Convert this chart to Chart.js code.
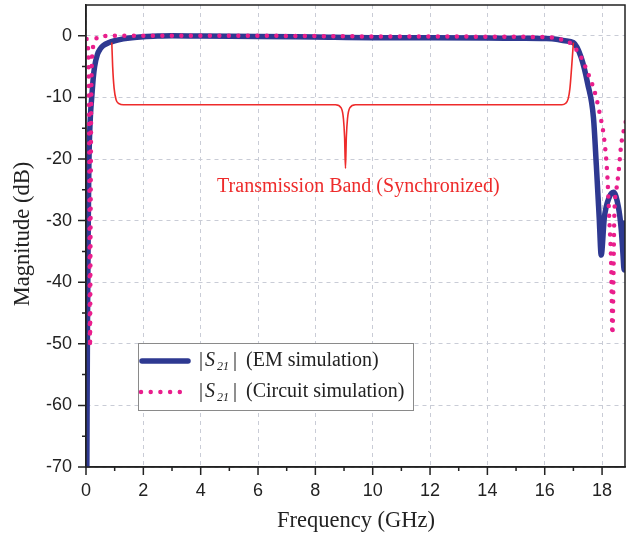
<!DOCTYPE html>
<html>
<head>
<meta charset="utf-8">
<script src="https://cdn.jsdelivr.net/npm/chart.js@4.4.0/dist/chart.umd.min.js"></script>
<style>
html,body{margin:0;padding:0;background:#fff;}
</style>
</head>
<body>
<canvas id="myChart" width="634" height="537"></canvas>
<script>
// datos
const emFreq=[0.03,0.05,0.08,0.1,0.13,0.16,0.2,0.25,0.3,0.4,0.5,0.6,0.8,1.0,1.3,1.6,2.0,2.5,3,4,6,8,10,12,14,15,16,16.4,16.7,17.0,17.27,17.5,17.7,17.8,17.9,17.97,18.08,18.25,18.4,18.57,18.67,18.73,18.77,18.8,18.84];
const emMag=[-70,-48,-30,-21,-15.5,-12.5,-10,-7,-5,-3,-2.1,-1.6,-1.1,-0.8,-0.5,-0.3,-0.15,-0.05,0,-0.05,-0.1,-0.2,-0.3,-0.3,-0.35,-0.4,-0.45,-0.55,-0.8,-1.1,-3.5,-7.8,-13.3,-21,-29.5,-35.6,-29.5,-26.2,-25.4,-27.8,-31.5,-35.5,-38,-30,-24];

const cirFreq=[0.02,0.06,0.1,0.12,0.14,0.16,0.18,0.2,0.23,0.27,0.35,0.5,1,2,4,6,8,10,12,14,16,16.5,16.92,17.27,17.5,17.73,17.9,18.08,18.18,18.25,18.32,18.36,18.43,18.5,18.57,18.67,18.75,18.85];
const cirMag=[-0.5,-1.5,-8,-25,-50.5,-30,-12,-5,-2.5,-1.3,-0.5,-0.1,0,0,0,0,-0.05,-0.1,-0.1,-0.15,-0.2,-0.5,-1.3,-3.5,-6,-8.9,-12.2,-17,-22.4,-29.5,-37.6,-48.5,-28.9,-25,-22.4,-17.6,-15.5,-13.5];

// llave de la anotacion (en GHz / dB)
const bandaFreq=[0.9,0.93,0.98,1.05,1.15,1.3,8.7,8.9,8.98,9.02,9.05,9.08,9.12,9.2,9.4,16.6,16.72,16.82,16.88,16.94,17.0];
const bandaMag=[-1.1,-5,-8.5,-10.4,-11.0,-11.2,-11.2,-11.7,-13.5,-16.5,-21.5,-16.5,-13.5,-11.7,-11.2,-11.2,-11.0,-10.2,-8.5,-5,-1.1];

const ticksX=[0,2,4,6,8,10,12,14,16,18];
const ticksY=[-70,-60,-50,-40,-30,-20,-10,0];
const menoresX=[1,3,5,7,9,11,13,15,17];
const menoresY=[-65,-55,-45,-35,-25,-15,-5];

const tituloX='Frequency (GHz)';
const tituloY='Magnitude (dB)';
const textoBanda='Transmission Band (Synchronized)';
const leyenda=['(EM simulation)','(Circuit simulation)'];

const azul='#2e3991';
const rosa='#e91e8c';
const rojo='#ee2b2b';
const serif='"Liberation Serif","Times New Roman",serif';
const sans='"Liberation Sans",Arial,sans-serif';

const puntos=(xs,ys)=>xs.map((x,i)=>({x:x,y:ys[i]}));

const dibujarS21=(ctx,x,y)=>{
    ctx.font='20px '+serif;
    ctx.textAlign='left';
    ctx.textBaseline='middle';
    ctx.fillText('|',x,y);
    ctx.font='italic 20px '+serif;
    ctx.fillText('S',x+6,y);
    ctx.font='italic 12px '+serif;
    ctx.fillText('21',x+18,y+6);
    ctx.font='20px '+serif;
    ctx.fillText('|',x+34,y);
}

const marco={
    id:'marco',
    afterDraw(chart){
        const ctx=chart.ctx;
        const a=chart.chartArea;
        const sx=chart.scales.x, sy=chart.scales.y;
        ctx.save();
        // marco completo
        ctx.strokeStyle='#222';
        ctx.lineWidth=1.5;
        ctx.strokeRect(a.left,a.top,a.right-a.left,a.bottom-a.top);
        // marcas
        ctx.beginPath();
        ticksX.forEach(v=>{let p=sx.getPixelForValue(v); ctx.moveTo(p,a.bottom); ctx.lineTo(p,a.bottom+8);});
        menoresX.forEach(v=>{let p=sx.getPixelForValue(v); ctx.moveTo(p,a.bottom); ctx.lineTo(p,a.bottom+4);});
        ticksY.forEach(v=>{let p=sy.getPixelForValue(v); ctx.moveTo(a.left,p); ctx.lineTo(a.left-8,p);});
        menoresY.forEach(v=>{let p=sy.getPixelForValue(v); ctx.moveTo(a.left,p); ctx.lineTo(a.left-4,p);});
        ctx.stroke();
        // titulos de ejes
        ctx.fillStyle='#222';
        ctx.font='22.5px '+serif;
        ctx.textAlign='center';
        ctx.textBaseline='middle';
        ctx.fillText(tituloX,356,521);
        ctx.save();
        ctx.translate(23,234);
        ctx.rotate(-Math.PI/2);
        ctx.fillText(tituloY,0,0);
        ctx.restore();
        // texto de la banda
        ctx.fillStyle=rojo;
        ctx.font='20px '+serif;
        ctx.fillText(textoBanda,sx.getPixelForValue(9.5),sy.getPixelForValue(-24.5));
        // leyenda
        ctx.fillStyle='#fff';
        ctx.fillRect(138,343,275,67);
        ctx.strokeStyle='#8a8a8a';
        ctx.lineWidth=1;
        ctx.strokeRect(138.5,343.5,275,67);
        ctx.strokeStyle=azul;
        ctx.lineWidth=5.5;
        ctx.lineCap='round';
        ctx.beginPath(); ctx.moveTo(142,361); ctx.lineTo(188,361); ctx.stroke();
        ctx.strokeStyle=rosa;
        ctx.lineWidth=4.5;
        ctx.setLineDash([0,9.7]);
        ctx.beginPath(); ctx.moveTo(141,392); ctx.lineTo(184,392); ctx.stroke();
        ctx.setLineDash([]);
        ctx.fillStyle='#222';
        dibujarS21(ctx,199,361);
        ctx.font='20px '+serif;
        ctx.fillText(leyenda[0],246,361);
        dibujarS21(ctx,199,392);
        ctx.font='20px '+serif;
        ctx.fillText(leyenda[1],246,392);
        ctx.restore();
    }
}

const data={
    datasets:[{
        label:'EM',
        data:puntos(emFreq,emMag),
        borderColor:azul,
        borderWidth:5.5,
        borderJoinStyle:'round',
        pointRadius:0,
        cubicInterpolationMode:'monotone',
        order:2
    },{
        label:'Circuit',
        data:puntos(cirFreq,cirMag),
        borderColor:rosa,
        borderWidth:4.5,
        borderDash:[0,9.5],
        borderCapStyle:'round',
        pointRadius:0,
        cubicInterpolationMode:'monotone',
        order:1
    },{
        label:'Banda',
        data:puntos(bandaFreq,bandaMag),
        borderColor:rojo,
        borderWidth:1.6,
        pointRadius:0,
        cubicInterpolationMode:'monotone',
        order:0
    }]
};

const config={
    type:'line',
    data,
    options:{
        responsive:false,
        animation:false,
        layout:{padding:{top:5,right:9,left:0,bottom:0}},
        plugins:{legend:{display:false},tooltip:{enabled:false}},
        scales:{
            x:{
                type:'linear',
                min:0,
                max:18.8,
                afterBuildTicks:(s)=>{s.ticks=ticksX.map(v=>({value:v}));},
                afterFit:(s)=>{s.height=70; s.paddingLeft=0; s.paddingRight=0;},
                grid:{color:'#c9ccd6',drawTicks:false,lineWidth:1},
                border:{color:'#222',width:1.5,dash:[4,4]},
                ticks:{padding:13,color:'#222',font:{family:sans,size:18},maxRotation:0}
            },
            y:{
                type:'linear',
                min:-70,
                max:5,
                afterBuildTicks:(s)=>{s.ticks=ticksY.map(v=>({value:v}));},
                afterFit:(s)=>{s.width=86; s.paddingTop=0; s.paddingBottom=0;},
                grid:{color:'#c9ccd6',drawTicks:false,lineWidth:1},
                border:{color:'#222',width:1.5,dash:[4,4]},
                ticks:{padding:14,color:'#222',font:{family:sans,size:18}}
            }
        }
    },
    plugins:[marco]
};

const ctx=document.getElementById('myChart');
const myChart=new Chart(ctx,config);
</script>
</body>
</html>
